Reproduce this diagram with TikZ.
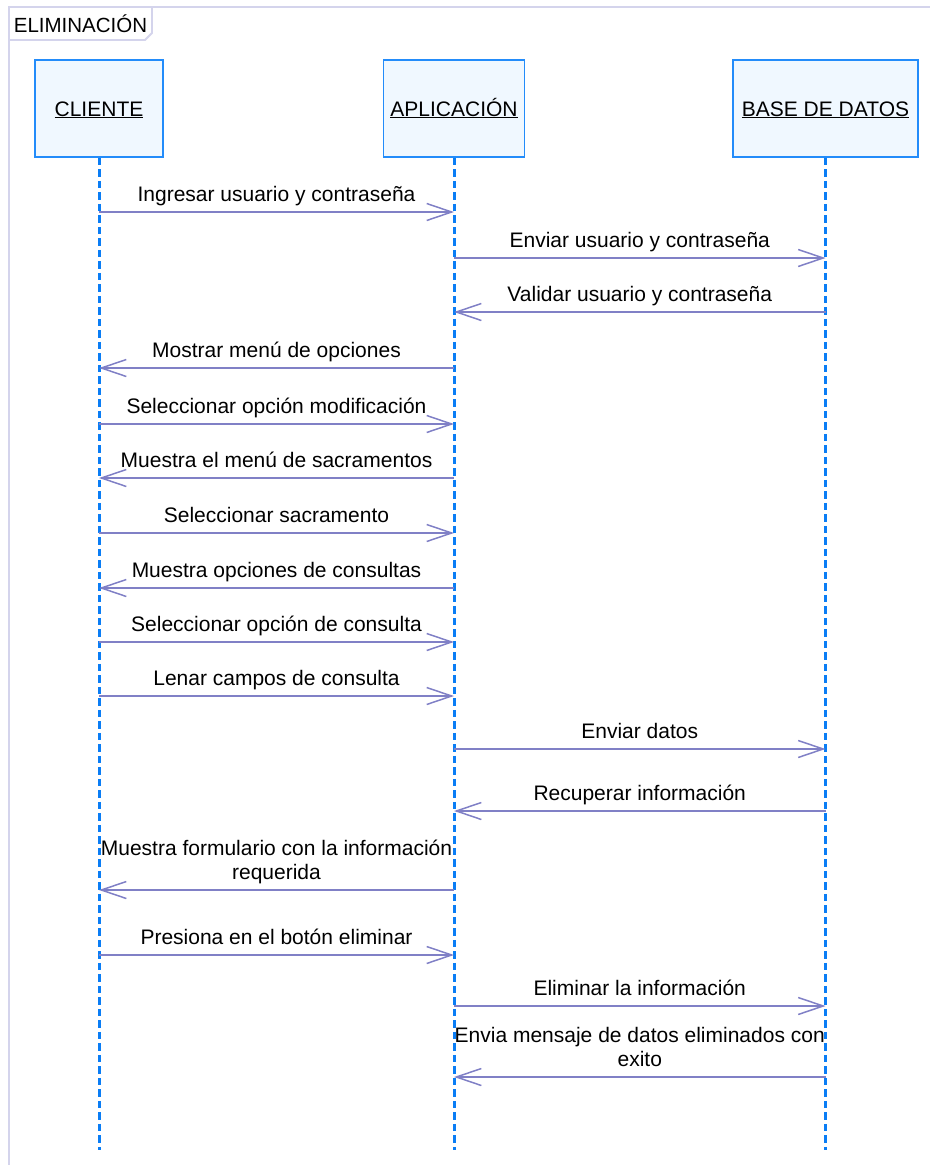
\documentclass[tikz,border=0pt]{standalone}
\usepackage{fontspec}
\setmainfont{Liberation Sans}
\usepackage{tikz}
\usetikzlibrary{arrows.meta,positioning}
\definecolor{LifeBlue}{RGB}{10,125,245}
\definecolor{BoxBorder}{RGB}{35,140,250}
\definecolor{BoxFill}{RGB}{240,248,255}
\definecolor{MsgPurple}{RGB}{128,128,198}
\definecolor{FrameLav}{RGB}{212,212,236}

\begin{document}
\begin{tikzpicture}[
      x=1pt,y=-1pt,
      font=\fontsize{21}{24}\selectfont,
      objBox/.style={draw=BoxBorder,fill=BoxFill,line width=1.8pt,minimum height=97pt,
                     text height=15pt,text depth=0pt},
      life/.style={draw=LifeBlue,line width=3pt,dash pattern=on 7.5pt off 4pt},
      msg/.style={-{Straight Barb[length=25pt,width=17pt]},line width=1.5pt,color=MsgPurple},
      lbl/.style={above=6pt,inner sep=0pt,text depth=4pt,align=center,text=black},
      frm/.style={draw=FrameLav,line width=1.8pt}
    ]
    \useasboundingbox (0,0) rectangle (930,1165);

    % Frame and its label
    \draw[frm] (9,1165) -- (9,7) -- (930,7);
    \draw[frm,fill=white] (9,7) -- (152,7) -- (152,33) -- (145,40) -- (9,40) -- cycle;
    \node(frame)[font=\fontsize{20.5}{24}\selectfont] at (80.5,24) {ELIMINACIÓN};

    % Objects
    \node(cli)[objBox,minimum width=128pt] at (99,108.5) {\underline{CLIENTE}};
    \node(app)[objBox,minimum width=141pt] at (454,108.5) {\underline{APLICACIÓN}};
    \node(bd)[objBox,minimum width=185pt] at (825.5,108.5) {\underline{BASE DE DATOS}};

    % Lifelines
    \coordinate (cliEnd) at (cli |- 0,1150);
    \coordinate (appEnd) at (app |- 0,1150);
    \coordinate (bdEnd) at (bd |- 0,1150);
    \draw[life] (cli.south) -- (cliEnd);
    \draw[life] (app.south) -- (appEnd);
    \draw[life] (bd.south) -- (bdEnd);

    % Login
    \draw[msg] (cli |- 0,212) -- node[lbl]{Ingresar usuario y contraseña} (app |- 0,212);
    \draw[msg] (app |- 0,258) -- node[lbl]{Enviar usuario y contraseña} (bd |- 0,258);
    \draw[msg] (bd |- 0,312) -- node[lbl]{Validar usuario y contraseña} (app |- 0,312);
    \draw[msg] (app |- 0,368) -- node[lbl]{Mostrar menú de opciones} (cli |- 0,368);

    % Menus and query
    \draw[msg] (cli |- 0,424) -- node[lbl]{Seleccionar opción modificación} (app |- 0,424);
    \draw[msg] (app |- 0,478) -- node[lbl]{Muestra el menú de sacramentos} (cli |- 0,478);
    \draw[msg] (cli |- 0,533) -- node[lbl]{Seleccionar sacramento} (app |- 0,533);
    \draw[msg] (app |- 0,588) -- node[lbl]{Muestra opciones de consultas} (cli |- 0,588);
    \draw[msg] (cli |- 0,642) -- node[lbl]{Seleccionar opción de consulta} (app |- 0,642);
    \draw[msg] (cli |- 0,696) -- node[lbl]{Lenar campos de consulta} (app |- 0,696);
    \draw[msg] (app |- 0,749) -- node[lbl]{Enviar datos} (bd |- 0,749);
    \draw[msg] (bd |- 0,811) -- node[lbl]{Recuperar información} (app |- 0,811);
    \draw[msg] (app |- 0,890) -- node[lbl]{Muestra formulario con la información\\requerida} (cli |- 0,890);

    % Deletion
    \draw[msg] (cli |- 0,955) -- node[lbl]{Presiona en el botón eliminar} (app |- 0,955);
    \draw[msg] (app |- 0,1006) -- node[lbl]{Eliminar la información} (bd |- 0,1006);
    \draw[msg] (bd |- 0,1077) -- node[lbl]{Envia mensaje de datos eliminados con\\exito} (app |- 0,1077);
  \end{tikzpicture}
\end{document}
